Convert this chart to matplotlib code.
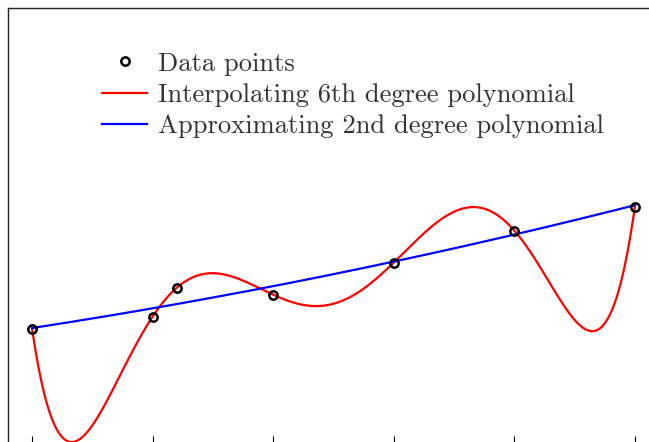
import numpy as np
import matplotlib
matplotlib.use("Agg")
import matplotlib.pyplot as plt

# data
x_data = [0.0, 1.0, 1.2, 2.0, 3.0, 4.0, 5.0]
y_data = [2.0, 2.63, 4.07, 3.72, 5.33, 6.93, 8.13]
xticks = [0, 1, 2, 3, 4, 5]

plt.rcParams['font.family'] = ['cmr10', 'DejaVu Serif']
plt.rcParams['axes.formatter.use_mathtext'] = True

fig = plt.figure(figsize=(6.49, 4.42), dpi=100)
ax = fig.add_axes([8/649, 1 - 443/442, 651/649, 435/442])

xs = np.linspace(min(x_data), max(x_data), 400)
p6 = np.polyfit(x_data, y_data, 6)
p2 = np.polyfit(x_data, y_data, 2)

ax.plot(x_data, y_data, 'o', mfc='none', mec='black', ms=6, mew=1.8,
        label='Data points', zorder=3)
ax.plot(xs, np.polyval(p6, xs), color='red', lw=1.6,
        label='Interpolating 6th degree polynomial', zorder=2)
ax.plot(xs, np.polyval(p2, xs), color='blue', lw=1.6,
        label='Approximating 2nd degree polynomial', zorder=2)

ax.set_xlim(-0.2, 5.2)
ax.set_ylim(-3.7, 18.07)
ax.set_xticks(xticks)
ax.set_xticklabels([])
ax.set_yticks([])
ax.tick_params(axis='x', direction='in', length=5, width=0.8, top=False)
for s in ax.spines.values():
    s.set_color('#222222')
    s.set_linewidth(1.0)

leg = ax.legend(loc='upper left', bbox_to_anchor=(0.1444, 0.899), frameon=False,
                fontsize=19.15, handlelength=1.7, handletextpad=0.42,
                labelspacing=0.28, borderaxespad=0, borderpad=0)
for t in leg.get_texts():
    t.set_color('#333333')

fig.savefig('out.png', dpi=100)
